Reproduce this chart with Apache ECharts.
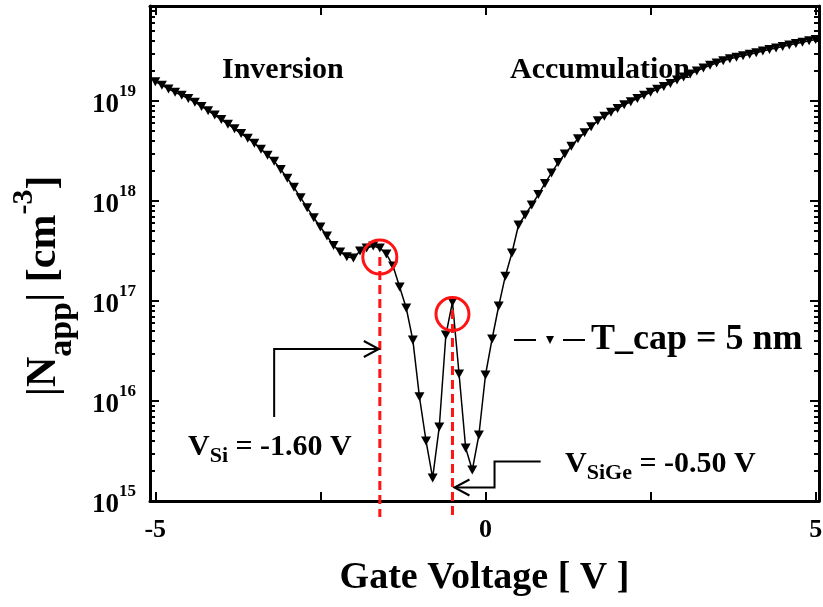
<!DOCTYPE html>
<html>
<head>
<meta charset="utf-8">
<script src="https://cdn.jsdelivr.net/npm/echarts@6/dist/echarts.min.js"></script>
<style>
  html, body { margin: 0; padding: 0; background: #ffffff; }
  #chart { width: 823px; height: 607px; }
</style>
</head>
<body>
<div id="chart"></div>
<script>
// Gate voltage sweep (V)
const gateVoltage = [
  -5.0, -4.9, -4.8, -4.7, -4.6, -4.5, -4.4, -4.3, -4.2, -4.1,
  -4.0, -3.9, -3.8, -3.7, -3.6, -3.5, -3.4, -3.3, -3.2, -3.1,
  -3.0, -2.9, -2.8, -2.7, -2.6, -2.5, -2.4, -2.3, -2.2, -2.1,
  -2.0, -1.9, -1.8, -1.7, -1.6, -1.5, -1.4, -1.3, -1.2, -1.1,
  -1.0, -0.9, -0.8, -0.7, -0.6, -0.5, -0.4, -0.3, -0.2, -0.1,
   0.0,  0.1,  0.2,  0.3,  0.4,  0.5,  0.6,  0.7,  0.8,  0.9,
   1.0,  1.1,  1.2,  1.3,  1.4,  1.5,  1.6,  1.7,  1.8,  1.9,
   2.0,  2.1,  2.2,  2.3,  2.4,  2.5,  2.6,  2.7,  2.8,  2.9,
   3.0,  3.1,  3.2,  3.3,  3.4,  3.5,  3.6,  3.7,  3.8,  3.9,
   4.0,  4.1,  4.2,  4.3,  4.4,  4.5,  4.6,  4.7,  4.8,  4.9,
   5.0
];

// Apparent doping |N_app| (cm^-3), T_cap = 5 nm
const napp = [
  1.56e19, 1.44e19, 1.32e19, 1.22e19, 1.14e19, 1.06e19, 9.72e18, 8.83e18, 8.00e18, 7.23e18,
  6.52e18, 5.86e18, 5.27e18, 4.73e18, 4.25e18, 3.79e18, 3.30e18, 2.87e18, 2.50e18, 2.07e18,
  1.69e18, 1.37e18, 1.08e18, 8.57e17, 6.79e17, 5.50e17, 4.47e17, 3.59e17, 3.09e17, 2.77e17,
  2.69e17, 3.16e17, 3.39e17, 3.55e17, 3.39e17, 2.95e17, 2.24e17, 1.38e17, 8.51e16, 4.07e16,
  1.10e16, 3.98e15, 1.70e15, 5.50e15, 4.57e16, 9.77e16, 1.86e16, 3.39e15, 2.04e15, 4.57e15,
  1.82e16, 4.17e16, 8.91e16, 1.77e17, 3.02e17, 5.75e17, 7.24e17, 9.12e17, 1.16e18, 1.50e18,
  1.91e18, 2.42e18, 2.95e18, 3.52e18, 4.20e18, 4.81e18, 5.53e18, 6.35e18, 7.05e18, 7.71e18,
  8.43e18, 9.16e18, 9.84e18, 1.06e19, 1.14e19, 1.22e19, 1.31e19, 1.40e19, 1.50e19, 1.62e19,
  1.74e19, 1.86e19, 2.00e19, 2.14e19, 2.28e19, 2.40e19, 2.52e19, 2.65e19, 2.74e19, 2.84e19,
  2.94e19, 3.04e19, 3.16e19, 3.27e19, 3.39e19, 3.51e19, 3.63e19, 3.75e19, 3.87e19, 4.00e19,
  4.13e19
];

const seriesName = 'T_cap = 5 nm';

// Axis ticks and labels
const xTicks = [-5, -2.5, 0, 2.5, 5];
const xTickLabels = [-5, 0, 5];
const yDecades = [15, 16, 17, 18, 19];   // exponents of the labelled decades
const yMinExp = 15;
const yMaxExp = 19.95;

// Threshold voltages and the densities at the marked peaks
const vSi = -1.60;
const vSiGe = -0.50;
const peakSi = 2.75e17;
const peakSiGe = 7.4e16;

// minor ticks at 2..9 x 10^n (exponent space)
const yMinorExps = [];
yDecades.forEach(function (n) {
  for (let k = 2; k <= 9; k++) {
    const e = n + Math.log10(k);
    if (e <= yMaxExp) yMinorExps.push(e);
  }
});

const FONT = "'Liberation Serif', 'Times New Roman', serif";
const RED = '#ff1414';

const points = gateVoltage.map(function (v, i) { return [v, napp[i]]; });

const chart = echarts.init(document.getElementById('chart'), null, { renderer: 'canvas' });

const frameLine = { show: true, onZero: false, lineStyle: { color: '#000', width: 3 } };
const hiddenLine = { show: false, onZero: false };

function xAxisDef(pos, withLabels) {
  return {
    type: 'value', position: pos, min: -5.08, max: 5.05,
    axisLine: frameLine,
    axisTick: { show: true, inside: true, length: 9, customValues: xTicks, lineStyle: { color: '#000', width: 2 } },
    axisLabel: withLabels ? {
      show: true, customValues: xTickLabels, margin: 16,
      fontFamily: FONT, fontWeight: 'bold', fontSize: 26, color: '#000'
    } : { show: false },
    splitLine: { show: false },
    name: withLabels ? 'Gate Voltage [ V ]' : '',
    nameLocation: 'middle', nameGap: 58,
    nameTextStyle: { fontFamily: FONT, fontWeight: 'bold', fontSize: 38, color: '#000' }
  };
}

function expAxisDef(pos, ticks, len, showLine) {
  return {
    type: 'value', position: pos, min: yMinExp, max: yMaxExp,
    axisLine: showLine ? frameLine : hiddenLine,
    axisTick: { show: true, inside: true, length: len, customValues: ticks, lineStyle: { color: '#000', width: 2 } },
    axisLabel: { show: false },
    splitLine: { show: false }
  };
}

const option = {
  animation: false,
  backgroundColor: '#ffffff',
  grid: { left: 150, top: 6, width: 669, height: 495, containLabel: false, outerBoundsMode: 'none' },
  legend: {
    left: 508, top: 317,
    itemWidth: 72, itemHeight: 10, itemGap: 0,
    selectedMode: false,
    data: [seriesName],
    lineStyle: { type: [22, 27], width: 2, color: '#000' },
    textStyle: { fontFamily: FONT, fontWeight: 'bold', fontSize: 36, color: '#000' }
  },
  xAxis: [ xAxisDef('bottom', true), xAxisDef('top', false) ],
  yAxis: [
    {
      type: 'log', logBase: 10, position: 'left',
      min: Math.pow(10, yMinExp), max: Math.pow(10, yMaxExp),
      axisLine: frameLine,
      axisTick: { show: true, inside: true, length: 9, lineStyle: { color: '#000', width: 2 } },
      axisLabel: {
        margin: 14, showMaxLabel: false,
        formatter: function (val) {
          const e = Math.log10(val);
          const r = Math.round(e);
          if (Math.abs(e - r) > 1e-6) return '';
          return '{b|10}{s|' + r + '}';
        },
        rich: {
          b: { fontFamily: FONT, fontWeight: 'bold', fontSize: 27, lineHeight: 36, color: '#000', verticalAlign: 'bottom' },
          s: { fontFamily: FONT, fontWeight: 'bold', fontSize: 17, lineHeight: 17, color: '#000', verticalAlign: 'top' }
        }
      },
      splitLine: { show: false }
    },
    expAxisDef('left', yMinorExps, 5, false),
    expAxisDef('right', yDecades, 9, true),
    expAxisDef('right', yMinorExps, 5, false)
  ],
  series: [{
    name: seriesName,
    type: 'line',
    xAxisIndex: 0, yAxisIndex: 0,
    data: points,
    showAllSymbol: true,
    symbol: 'triangle',
    symbolSize: [10, 9],
    symbolRotate: 180,
    itemStyle: { color: '#000' },
    lineStyle: { color: '#000', width: 1.5 },
    z: 3
  }]
};

chart.setOption(option);

// annotation overlay: markers for the two threshold voltages
function px(v, n) { return chart.convertToPixel({ seriesIndex: 0 }, [v, n]); }

const cSi = px(vSi, peakSi);
const cSiGe = px(vSiGe, peakSiGe);
const axisBottom = px(0, Math.pow(10, yMinExp))[1];

// arrow paths in data space
const arrowSiStart = px(-3.2, Math.pow(10, 15.84));
const arrowSiCorner = px(-3.2, Math.pow(10, 16.52));
const arrowSiGeStart = px(0.835, Math.pow(10, 15.395));
const arrowSiGeCorner1 = px(0.137, Math.pow(10, 15.395));
const arrowSiGeCorner2 = px(0.137, Math.pow(10, 15.135));

const tipSi = [cSi[0] - 1, arrowSiCorner[1]];
const tipSiGe = [cSiGe[0] + 2, arrowSiGeCorner2[1]];

const blackLine = { stroke: '#000', lineWidth: 2, fill: 'none' };

const labelRich = {
  m: { fontFamily: FONT, fontWeight: 'bold', fontSize: 30, lineHeight: 40, verticalAlign: 'middle', fill: '#000' },
  sub: { fontFamily: FONT, fontWeight: 'bold', fontSize: 22, lineHeight: 24, verticalAlign: 'bottom', fill: '#000' }
};

chart.setOption({
  graphic: [
    // dashed red guide lines
    { type: 'line', z: 100, shape: { x1: cSi[0], y1: cSi[1], x2: cSi[0], y2: axisBottom + 16 },
      style: { stroke: RED, lineWidth: 3, lineDash: [9, 5] } },
    { type: 'line', z: 100, shape: { x1: cSiGe[0], y1: cSiGe[1] - 4, x2: cSiGe[0], y2: axisBottom + 16 },
      style: { stroke: RED, lineWidth: 3, lineDash: [9, 5] } },
    // circles around the peaks
    { type: 'circle', z: 100, shape: { cx: cSi[0], cy: cSi[1], r: 17 },
      style: { fill: 'none', stroke: RED, lineWidth: 3 } },
    { type: 'circle', z: 100, shape: { cx: cSiGe[0], cy: cSiGe[1], r: 16.5 },
      style: { fill: 'none', stroke: RED, lineWidth: 3 } },
    // V_Si arrow
    { type: 'polyline', z: 101, shape: { points: [arrowSiStart, arrowSiCorner, tipSi] }, style: blackLine },
    { type: 'polyline', z: 101, shape: { points: [[tipSi[0] - 15, tipSi[1] - 8], tipSi, [tipSi[0] - 15, tipSi[1] + 8]] }, style: blackLine },
    // V_SiGe arrow
    { type: 'polyline', z: 101, shape: { points: [arrowSiGeStart, arrowSiGeCorner1, arrowSiGeCorner2, tipSiGe] }, style: blackLine },
    { type: 'polyline', z: 101, shape: { points: [[tipSiGe[0] + 15, tipSiGe[1] - 8], tipSiGe, [tipSiGe[0] + 15, tipSiGe[1] + 8]] }, style: blackLine },
    // labels
    { type: 'text', z: 102, x: 188, y: 447,
      style: { text: '{m|V}{sub|Si}{m| = ' + vSi.toFixed(2) + ' V}', rich: labelRich, align: 'left', verticalAlign: 'middle' } },
    { type: 'text', z: 102, x: 565, y: 464,
      style: { text: '{m|V}{sub|SiGe}{m| = ' + vSiGe.toFixed(2) + ' V}', rich: labelRich, align: 'left', verticalAlign: 'middle' } },
    { type: 'text', z: 102, x: 222, y: 70,
      style: { text: 'Inversion', fontFamily: FONT, fontWeight: 'bold', fontSize: 30, fill: '#000', align: 'left', verticalAlign: 'middle' } },
    { type: 'text', z: 102, x: 510, y: 70,
      style: { text: 'Accumulation', fontFamily: FONT, fontWeight: 'bold', fontSize: 30, fill: '#000', align: 'left', verticalAlign: 'middle' } },
    // y axis title
    { type: 'text', z: 102, x: 44, y: 286, rotation: Math.PI / 2,
      style: {
        text: '{m||N}{sub|app}{m|| [cm}{sup|-3}{m|]}',
        align: 'center', verticalAlign: 'middle',
        rich: {
          m: { fontFamily: FONT, fontWeight: 'bold', fontSize: 42, lineHeight: 70, verticalAlign: 'middle', fill: '#000' },
          sub: { fontFamily: FONT, fontWeight: 'bold', fontSize: 34, lineHeight: 56, verticalAlign: 'bottom', fill: '#000' },
          sup: { fontFamily: FONT, fontWeight: 'bold', fontSize: 30, lineHeight: 30, verticalAlign: 'top', fill: '#000' }
        }
      } }
  ]
});
</script>
</body>
</html>
